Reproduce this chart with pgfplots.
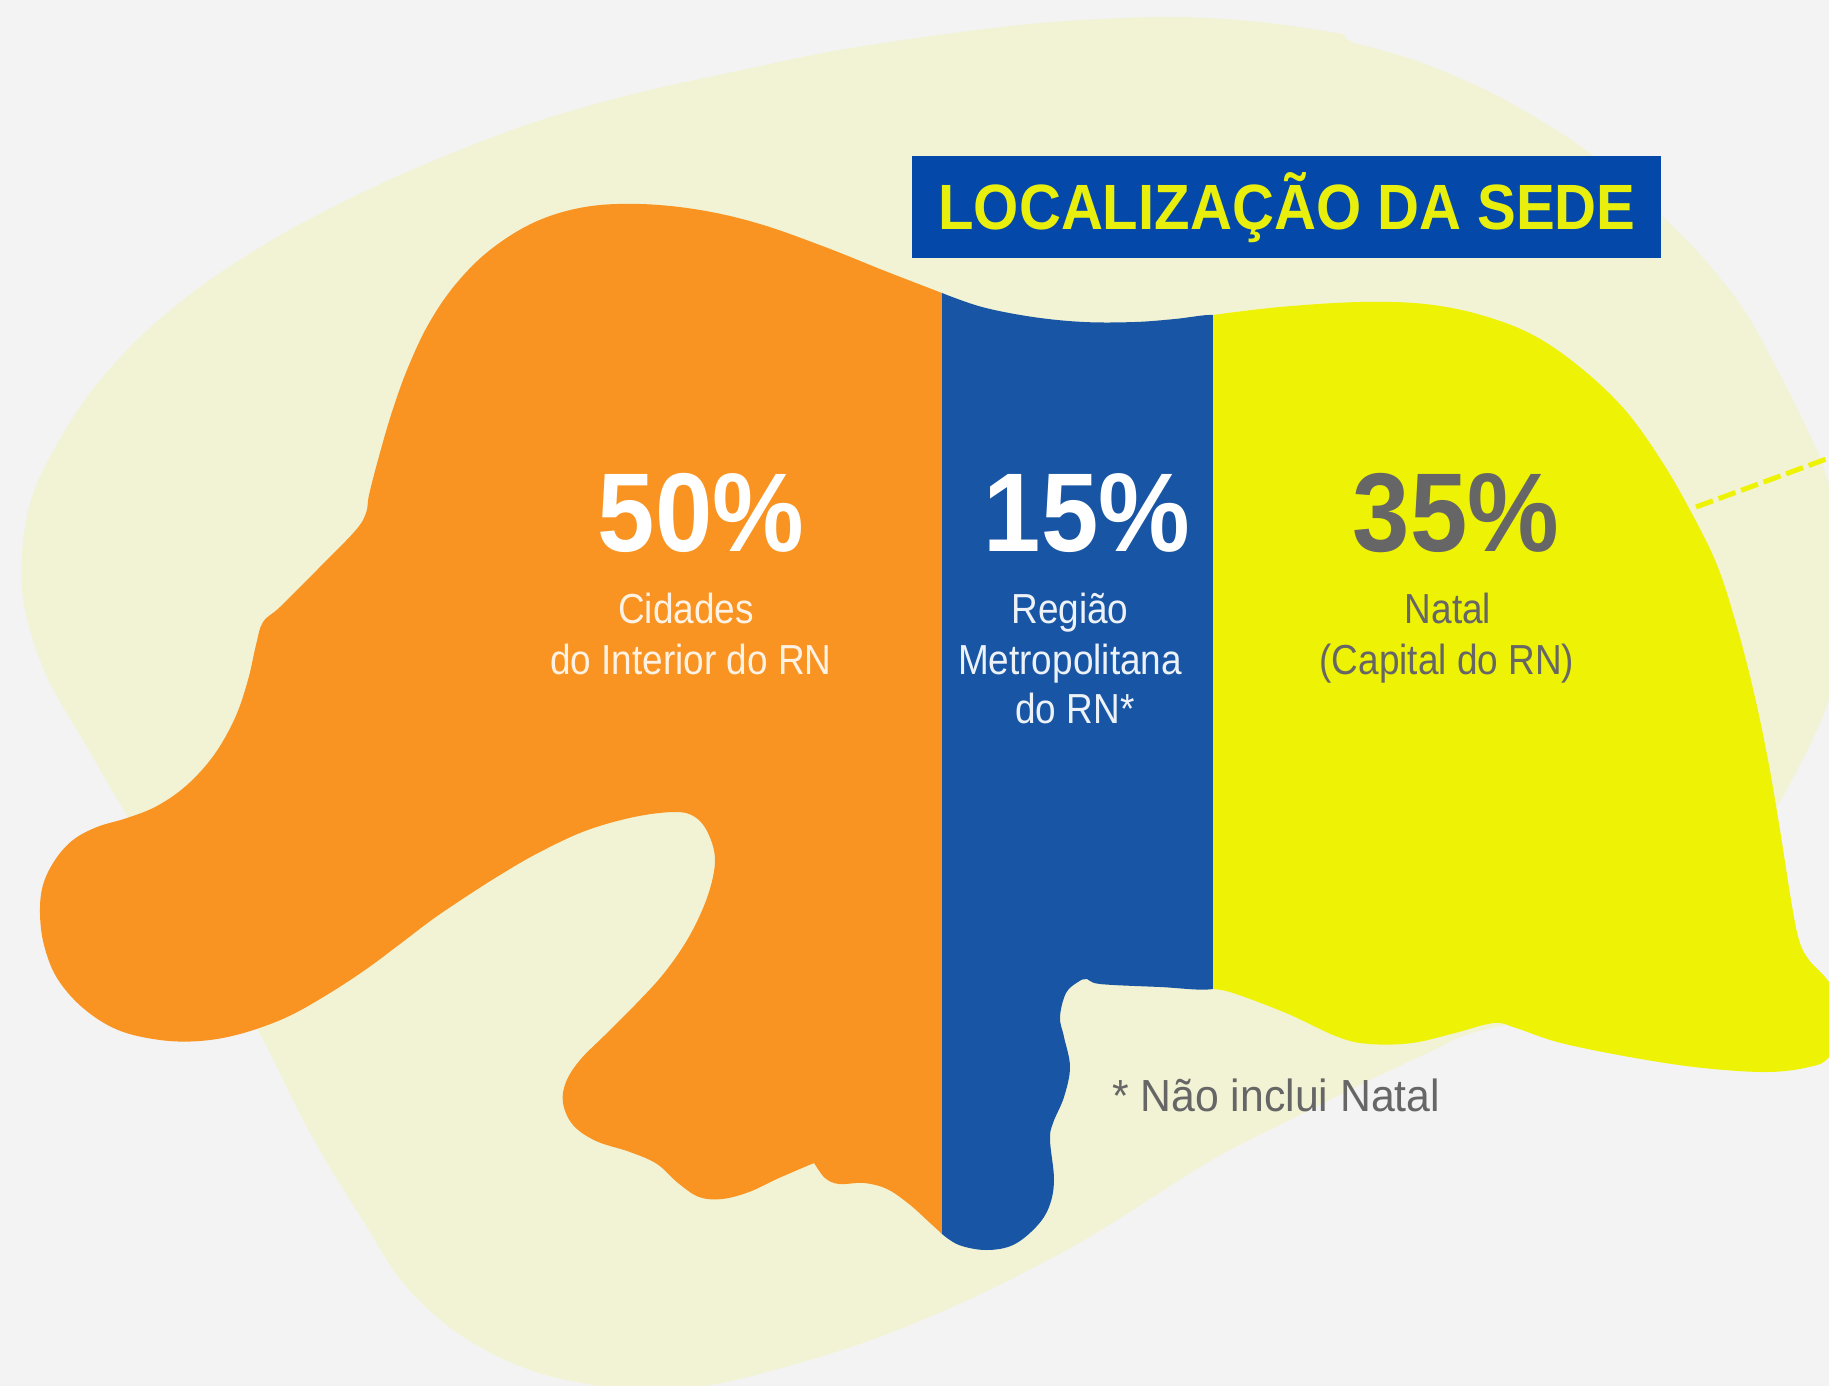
\documentclass[border=0pt]{standalone}
\usepackage{pgfplots}
\pgfplotsset{compat=1.18}
\usepackage{fontspec}
\setmainfont{Liberation Sans}
\newfontfamily\fbig[FakeStretch=0.92]{Liberation Sans}
\newfontfamily\flab[FakeStretch=0.88]{Liberation Sans}
\newfontfamily\fnote[FakeStretch=0.95]{Liberation Sans}
\newfontfamily\fttl[FakeStretch=0.908]{Liberation Sans}
\definecolor{bgc}{HTML}{F3F3F3}
\definecolor{pale}{HTML}{F2F3D5}
\definecolor{org}{HTML}{F99321}
\definecolor{blu}{HTML}{1856A5}
\definecolor{yel}{HTML}{EEF204}
\definecolor{boxb}{HTML}{0449A9}
\definecolor{ttly}{HTML}{E9EF0C}
\definecolor{gry}{HTML}{666666}
\begin{document}
\begin{tikzpicture}
\begin{axis}[
  scale only axis, width=1829pt, height=1386pt,
  xmin=0, xmax=1829, ymin=0, ymax=1386, y dir=reverse,
  hide axis, clip=true]
% background
\addplot[fill=bgc, draw=none] coordinates {(0,0)(1829,0)(1829,1386)(0,1386)};
% pale blob
\addplot[fill=pale, draw=none, smooth, tension=0.6] coordinates {
(1354,43)(1414,60)(1486,90)(1548,125)(1596,158)(1661,215)(1705,260)(1744,310)(1775,365)(1806,427)(1829,485)
(1850,600)(1829,700)(1777,807)(1700,930)(1600,1000)(1476,1032)(1434,1050)(1370,1080)(1296,1117)(1212,1160)(1106,1227)(1050,1259)
(970,1299)(874,1339)(778,1369)(700,1387)(635,1391)(587,1384)(539,1373)(491,1353)(444,1323)(400,1279)(362,1219)(329,1166)(300,1114)
(258,1030)(200,930)(128,817)(87,747)(47,677)(25,610)(22,555)(31,500)(52,453)(90,393)(140,337)(200,287)(267,243)(333,207)(400,175)
(470,146)(541,120)(637,93)(733,72)(828,52)(924,37)(1020,25)(1100,19)(1180,17)(1260,22)(1337,33)(1345,38)(1354,43)};
% orange
\addplot[fill=org, draw=none, smooth, tension=0.6] coordinates {
(942,293)(885,271)(825,247)(760,224)(700,210)(640,204)(585,207)(535,222)(490,250)(455,285)(428,325)(407,370)(391,415)(378,460)(369,495)(366,513)(355,531)
(317,570)(280,607)(263,622)(256,645)(248,680)(235,718)(214,755)(187,785)(157,806)(127,818)(97,827)(73,840)(55,860)(43,885)(40,913)(44,945)(57,978)(83,1008)(118,1030)(160,1040)(200,1041)(240,1034)(285,1018)(325,996)(365,970)(400,944)(433,919)(467,896)
(500,875)(538,853)(585,831)(634,817)(675,812)(695,817)(708,833)(715,860)(708,895)(690,935)(665,972)(635,1005)(605,1035)(580,1060)(566,1082)(563,1103)(573,1125)(596,1141)(630,1152)(657,1164)(678,1183)(699,1197)(722,1199)(749,1192)(779,1178)(814,1163)(814,1163)(825,1178)(839,1184)(864,1183)(887,1189)(909,1204)(929,1222)(942,1234)};
% blue (its right side runs on under the yellow)
\addplot[fill=blu, draw=none, smooth, tension=0.6] coordinates {
(942,293)(982,307)(1033,317)(1084,322)(1135,322)(1175,319)(1213,315)(1235,322)(1240,345)(1240,420)(1240,600)(1240,800)(1240,930)(1240,975)(1213,989)(1160,987)(1100,984)(1087,979)(1078,982)(1066,993)(1060,1017)(1064,1037)(1070,1067)(1064,1097)(1053,1123)(1050,1140)(1054,1180)(1049,1207)(1036,1227)(1013,1245)(986,1250)(959,1245)(942,1234)};
% yellow
\addplot[fill=yel, draw=none, smooth, tension=0.6] coordinates {
(1213,989)(1233,993)(1286,1013)(1338,1037)(1370,1044)(1412,1043)(1455,1033)(1494,1023)(1516,1028)(1561,1043)(1635,1058)(1703,1068)(1767,1072)(1809,1067)(1829,1057)(1850,1020)(1829,982)(1809,960)(1799,940)(1791,900)(1780,830)(1768,760)(1754,693)(1737,627)(1717,565)(1690,510)(1661,460)(1625,410)(1581,368)(1533,335)(1481,315)(1425,304)(1360,302)(1280,307)(1213,315)};
% dashed connector
\addplot[yel, line width=5pt, dash pattern=on 18pt off 6pt] coordinates {(1696,507)(1829,458)};
% title box
\addplot[fill=boxb, draw=none] coordinates {(912,156)(1661,156)(1661,258)(912,258)};
\node[anchor=base, text=ttly, inner sep=0pt] at (axis cs:1287,229) {\fontsize{64}{64}\selectfont\fttl\bfseries LOCALIZAÇÃO DA SEDE};
% percentages
\node[anchor=base, text=white, inner sep=0pt] at (axis cs:701,551) {\fontsize{112}{112}\selectfont\fbig\bfseries 50\%};
\node[anchor=base, text=white, inner sep=0pt] at (axis cs:1087,551) {\fontsize{112}{112}\selectfont\fbig\bfseries 15\%};
\node[anchor=base, text=gry, inner sep=0pt] at (axis cs:1456,551) {\fontsize{112}{112}\selectfont\fbig\bfseries 35\%};
% labels
\node[anchor=base, text=white!88!org, inner sep=0pt] at (axis cs:686,623) {\fontsize{42}{42}\selectfont\flab Cidades};
\node[anchor=base, text=white!88!org, inner sep=0pt] at (axis cs:691,674) {\fontsize{42}{42}\selectfont\flab do Interior do RN};
\node[anchor=base, text=white!92!blu, inner sep=0pt] at (axis cs:1070,623) {\fontsize{42}{42}\selectfont\flab Região};
\node[anchor=base, text=white!92!blu, inner sep=0pt] at (axis cs:1070,674) {\fontsize{42}{42}\selectfont\flab Metropolitana};
\node[anchor=base, text=white!92!blu, inner sep=0pt] at (axis cs:1075,723) {\fontsize{42}{42}\selectfont\flab do RN*};
\node[anchor=base, text=gry, inner sep=0pt] at (axis cs:1448,623) {\fontsize{42}{42}\selectfont\flab Natal};
\node[anchor=base, text=gry, inner sep=0pt] at (axis cs:1447,674) {\fontsize{42}{42}\selectfont\flab (Capital do RN)};
\node[anchor=base west, text=gry, inner sep=0pt] at (axis cs:1112,1111) {\fontsize{45}{45}\selectfont\fnote * Não inclui Natal};
\end{axis}
\end{tikzpicture}
\end{document}
